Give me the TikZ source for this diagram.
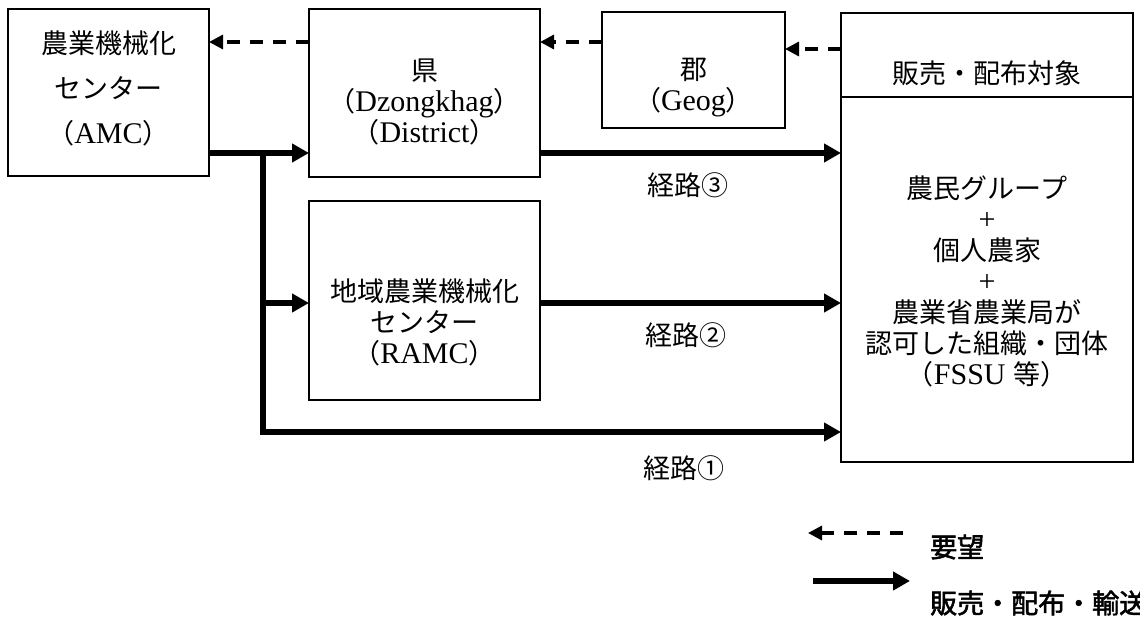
\documentclass[tikz,border=0pt]{standalone}
\usepackage{fontspec}
\setmainfont{Liberation Serif}
\newfontfamily\jpf{Noto Sans CJK JP}[Scale=0.9]
\newfontfamily\jpb{Noto Sans CJK JP}[Scale=0.9,FakeBold=2]
\newcommand\J[1]{{\jpf #1}}
\usetikzlibrary{arrows.meta,calc}
\begin{document}
\begin{tikzpicture}[x=1pt,y=-1pt,
  box/.style={draw, line width=1.6pt, inner sep=0pt, outer sep=0pt},
  txt/.style={inner sep=0pt, align=center, font=\fontsize{30}{31}\selectfont},
  req/.style={line width=3.2pt, dash pattern=on 13pt off 10pt, -{Triangle[length=14pt,width=14pt]}},
  flow/.style={line width=5.5pt, -{Triangle[length=17pt,width=18pt]}}
]
\fill[white] (0,0) rectangle (1140,617);
\useasboundingbox (0,0) rectangle (1140,617);

% boxes
\node[box, minimum width=201pt, minimum height=167pt] (amc) at (108.5,92.5) {};
\node[box, minimum width=231pt, minimum height=168pt] (ken) at (424.5,93) {};
\node[box, minimum width=183pt, minimum height=116pt] (gun) at (693.5,70) {};
\node[box, minimum width=292pt, minimum height=449pt] (tgt) at (987,237.5) {};
\node[box, minimum width=231pt, minimum height=199pt] (ramc) at (424.5,300.5) {};
\draw[line width=1.6pt] (tgt.west |- 0,97) -- (tgt.east |- 0,97);

% texts
\node[txt, font=\fontsize{30}{45}\selectfont] (amc-t) at (108.5,88) {\J{農業機械化}\\\J{センター}\\\J{（}AMC\J{）}};
\node[txt] (ken-t) at (424.5,102) {\J{県}\\\J{（}Dzongkhag\J{）}\\\J{（}District\J{）}};
\node[txt] (gun-t) at (693.5,88) {\J{郡}\\\J{（}Geog\J{）}};
\node[txt] (tgt-h) at (987,73) {\J{販売・配布対象}};
\node[txt] (tgt-t) at (987,281) {\J{農民グループ}\\+\\\J{個人農家}\\+\\\J{農業省農業局が}\\\J{認可した組織・団体}\\\J{（}FSSU \J{等）}};
\node[txt] (ramc-t) at (424.5,322) {\J{地域農業機械化}\\\J{センター}\\\J{（}RAMC\J{）}};

\node[txt] (r3) at (688,185) {\J{経路③}};
\node[txt] (r2) at (686,335) {\J{経路②}};
\node[txt] (r1) at (684,468) {\J{経路①}};

% request (dashed) arrows
\draw[req] (tgt.west |- 0,49) -- (gun.east |- 0,49);
\draw[req] (gun.west |- 0,42) -- (ken.east |- 0,42);
\draw[req] (ken.west |- 0,42) -- (amc.east |- 0,42);

% flow arrows
\coordinate (j1) at (263,153);
\coordinate (j2) at (263,303);
\draw[flow] (amc.east |- 0,153) -- (ken.west |- 0,153);
\draw[flow] (ken.east |- 0,153) -- (tgt.west |- 0,153);
\draw[flow] (j1) |- (tgt.west |- 0,432);
\draw[flow] (j2) -- (ramc.west |- 0,303);
\draw[flow] (ramc.east |- 0,303) -- (tgt.west |- 0,303);

% legend
\coordinate (la1) at (903,533);
\coordinate (la2) at (808,533);
\coordinate (lb1) at (813,581);
\coordinate (lb2) at (910,581);
\draw[req] (la1) -- (la2);
\draw[flow] (lb1) -- (lb2);
\node[txt, anchor=west] (leg1) at (930,547) {{\jpb 要望}};
\node[txt, anchor=west] (leg2) at (930,603) {{\jpb 販売・配布・輸送}};
\end{tikzpicture}
\end{document}
